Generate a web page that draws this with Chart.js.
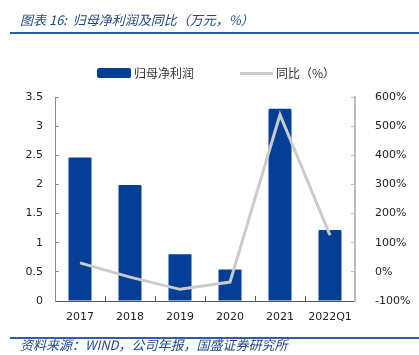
<!DOCTYPE html>
<html>
<head>
<meta charset="utf-8">
<script src="https://cdn.jsdelivr.net/npm/chart.js@4"></script>
<style>
  html, body { margin: 0; padding: 0; background: #fff; }
  body { width: 419px; height: 355px; position: relative; overflow: hidden; font-family: "Noto Sans CJK SC", "DejaVu Sans", sans-serif; }
  #wrap { position: absolute; left: 0; top: 0; width: 419px; height: 355px; }
  .title { position: absolute; left: 20px; top: 11px; font-size: 13px; font-style: italic; color: #23488a; white-space: nowrap; line-height: 18px; }
  .rule { position: absolute; left: 10px; width: 409px; height: 2px; background: #2f5cab; }
  .source { position: absolute; left: 20px; font-size: 13px; font-style: italic; color: #23488a; white-space: nowrap; line-height: 18px; }
  .lg { position: absolute; font-size: 12px; color: #333; white-space: nowrap; line-height: 16px; }
  .sw { position: absolute; }
</style>
</head>
<body>
<div id="wrap"><canvas id="c" width="419" height="355"></canvas></div>
<div class="title">图表 16:&nbsp; 归母净利润及同比（万元，%）</div>
<div class="rule" style="top:32px"></div>
<div class="sw" style="left:97px; top:68px; width:34px; height:10px; background:#053f95; border-radius:2px;"></div>
<div class="lg" style="left:134px; top:65px;">归母净利润</div>
<div class="sw" style="left:240px; top:72px; width:33px; height:3px; background:#cbcbcb;"></div>
<div class="lg" style="left:276px; top:65px;">同比（%）</div>
<div class="rule" style="top:337px"></div>
<div class="source" style="top:336px">资料来源：WIND，公司年报，国盛证券研究所</div>
<script>
const categories = ["2017", "2018", "2019", "2020", "2021", "2022Q1"];
const netProfit = [2.46, 1.99, 0.80, 0.54, 3.30, 1.22];
const yoyPct = [31, -18, -60, -35, 539, 126];
const leftTicks = [0, 0.5, 1, 1.5, 2, 2.5, 3, 3.5];
const rightTicks = [-100, 0, 100, 200, 300, 400, 500, 600];

const tickFont = { family: "DejaVu Sans", size: 11 };

new Chart(document.getElementById('c'), {
  data: {
    labels: categories,
    datasets: [
      {
        type: 'line',
        label: '同比（%）',
        data: yoyPct,
        yAxisID: 'y1',
        borderColor: '#cbcbcb',
        borderWidth: 3,
        pointRadius: 0,
        tension: 0,
        order: 0
      },
      {
        type: 'bar',
        label: '归母净利润',
        data: netProfit,
        yAxisID: 'y',
        backgroundColor: '#053f95',
        borderWidth: 0,
        borderRadius: 1,
        categoryPercentage: 1,
        barPercentage: 0.46,
        order: 1
      }
    ]
  },
  options: {
    responsive: false,
    animation: false,
    layout: { padding: { top: 97, left: 0, right: 0, bottom: 0 } },
    plugins: { legend: { display: false }, tooltip: { enabled: false } },
    scales: {
      x: {
        grid: { display: true, offset: true, drawOnChartArea: false, drawTicks: true, tickLength: -5, color: '#595959' },
        border: { display: true, color: '#595959', width: 1 },
        ticks: { font: tickFont, color: '#222', padding: 15, maxRotation: 0 },
        afterFit: (s) => { s.height = 54; }
      },
      y: {
        position: 'left',
        min: 0, max: 3.5,
        afterBuildTicks: (s) => { s.ticks = leftTicks.map(v => ({ value: v })); },
        grid: { display: true, drawOnChartArea: false, drawTicks: true, tickLength: -4, color: '#8c8c8c' },
        border: { display: true, color: '#8c8c8c', width: 1 },
        ticks: { font: tickFont, color: '#222', padding: 16, callback: (v) => String(v) },
        afterFit: (s) => { s.width = 55; }
      },
      y1: {
        position: 'right',
        min: -100, max: 600,
        afterBuildTicks: (s) => { s.ticks = rightTicks.map(v => ({ value: v })); },
        grid: { display: true, drawOnChartArea: false, drawTicks: true, tickLength: -4, color: '#bdbdbd' },
        border: { display: true, color: '#bdbdbd', width: 2 },
        ticks: { font: tickFont, color: '#222', padding: 24, callback: (v) => v + '%' },
        afterFit: (s) => { s.width = 64; }
      }
    }
  }
});
</script>
</body>
</html>
